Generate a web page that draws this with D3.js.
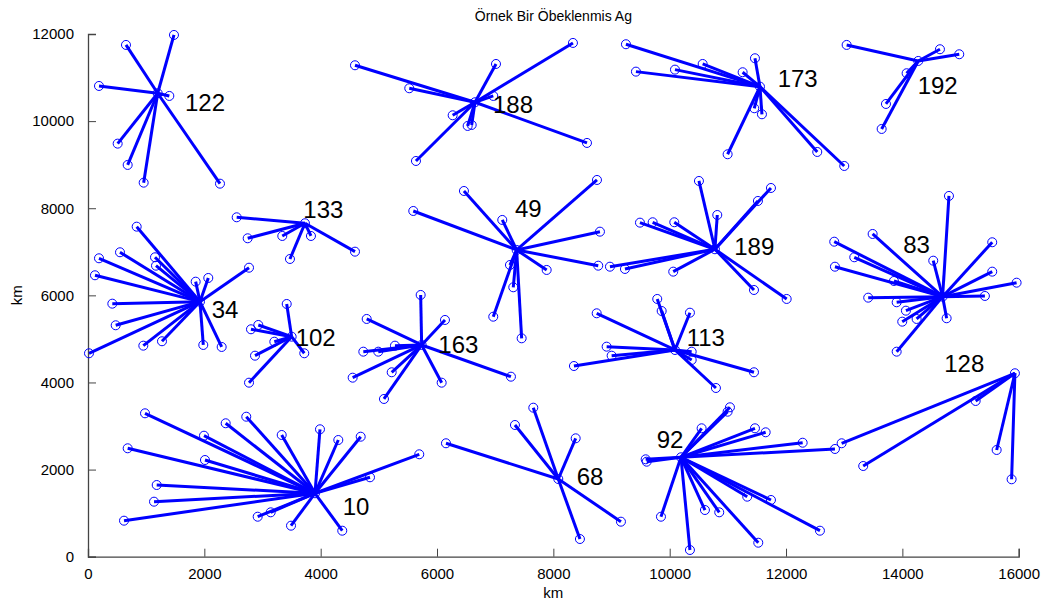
<!DOCTYPE html>
<html>
<head>
<meta charset="utf-8">
<script src="https://cdn.jsdelivr.net/npm/d3@7"></script>
<style>
  body { margin: 0; background: #fff; }
  svg { display: block; font-family: "Liberation Sans", Arial, sans-serif; }
</style>
</head>
<body>
<svg id="chart" width="1056" height="604"></svg>
<script>
// cluster ids, hub positions (km) and label anchors (km)
const clusterIds = [122, 188, 173, 192, 34, 133, 102, 49, 163, 189, 113, 83, 128, 92, 68, 10];
const centerX = [1198, 6653, 11552, 14273, 1925, 3730, 3501, 7369, 5736, 10778, 10091, 14692, 15935, 10194, 8085, 3902];
const centerY = [10640, 10433, 10791, 11381, 5855, 7655, 5051, 7042, 4861, 7058, 4746, 5970, 4211, 2282, 1784, 1456];
const labelX = [1667, 6962, 11856, 14263, 2126, 3701, 3570, 7340, 6022, 11110, 10292, 14015, 14720, 9776, 8401, 4378];
const labelY = [10428, 10394, 10984, 10812, 5687, 7983, 5037, 7995, 4884, 7115, 5033, 7168, 4447, 2691, 1853, 1164];

// member nodes of each cluster [x, y] in km
const m122 = [[653,11749],[1478,11978],[189,10807],[1398,10578],[510,9483],[682,8994],[957,8587],[2269,8564]];
const m188 = [[4590,11282],[5523,10754],[7014,11312],[6967,10578],[6269,10134],[6527,9889],[6596,9912],[5638,9085],[8337,11795],[8578,9499]];
const m173 = [[9248,11765],[9420,11136],[10091,11182],[10567,11312],[11254,11122],[11466,11443],[11454,10295],[11586,10157],[10996,9239],[12537,9292],[13001,8970]];
const m192 = [[13042,11749],[14646,11650],[14978,11535],[14073,11099],[13718,10394],[13644,9820]];
const m34 = [[837,7577],[550,6989],[189,6851],[120,6461],[1152,6874],[1169,6681],[1851,6314],[2068,6399],[2768,6635],[418,5809],[476,5313],[17,4670],[951,4845],[1272,4946],[1982,4861],[2298,4815]];
const m133 = [[2556,7792],[2745,7310],[3340,7363],[3833,7363],[3472,6835],[4590,7003]];
const m102 = [[3416,5802],[2802,5221],[2928,5320],[3203,4936],[3718,4670],[2871,4615],[2768,3995]];
const m49 = [[5592,7937],[7122,7731],[6463,8396],[8750,8649],[8801,7462],[8772,6681],[7885,6583],[7254,6697],[7311,6185],[6967,5510],[7455,5014]];
const m163 = [[5719,6009],[4791,5458],[6137,5435],[4733,4707],[4990,4707],[5277,4845],[4550,4110],[5221,4234],[7271,4133],[6080,3995],[5088,3621]];
const m189 = [[9489,7669],[9707,7678],[10079,7678],[10818,7845],[10503,8626],[11517,8167],[11741,8465],[8973,6658],[9231,6606],[10061,6544],[11449,6123],[12011,5917]];
const m113 = [[8745,5588],[9786,5917],[9862,5641],[10348,5602],[8916,4822],[9002,4615],[8354,4378],[10378,4707],[10378,4516],[11449,4234],[10795,3873]];
const m83 = [[14801,8282],[12829,7232],[13489,7409],[13173,6874],[12841,6658],[13855,6330],[14531,6796],[15545,7219],[15545,6544],[15964,6291],[15419,5986],[13413,5947],[13902,5841],[14061,5648],[13998,5396],[14245,5458],[14761,5474],[13902,4707]];
const m128 = [[15260,3575],[15621,2450],[15878,1777],[13327,2082],[12956,2604]];
const m92 = [[11036,3430],[10996,3329],[10549,2948],[11466,2948],[11650,2856],[12286,2617],[12841,2473],[9587,2236],[9604,2181],[9850,918],[10348,154],[10606,1072],[10852,1019],[11333,1378],[11741,1302],[11523,321],[12583,597]];
const m68 = [[8384,2718],[9162,804],[8457,406],[6154,2604],[7340,3024],[7655,3421]];
const m10 = [[980,3292],[682,2489],[1994,2778],[2011,2220],[2367,3063],[2721,3214],[3330,2794],[3988,2925],[1181,1646],[1135,1263],[619,827],[2917,918],[3141,1019],[3490,712],[4303,2679],[4688,2755],[4848,1823],[5695,2351],[4371,597]];
const memberLists = [m122, m188, m173, m192, m34, m133, m102, m49, m163, m189, m113, m83, m128, m92, m68, m10];

const xTicks = [0, 2000, 4000, 6000, 8000, 10000, 12000, 14000, 16000];
const yTicks = [0, 2000, 4000, 6000, 8000, 10000, 12000];

const svg = d3.select("#chart");
const plotLeft = 88, plotRight = 1018.7, plotTop = 34, plotBottom = 556.7;

const x = d3.scaleLinear().domain([0, 16000]).range([plotLeft, plotRight]);
const y = d3.scaleLinear().domain([0, 12000]).range([plotBottom, plotTop]);

// axes, ticks pointing inwards like matlab
const xAxis = d3.axisBottom(x).tickValues(xTicks).tickSize(-8).tickPadding(12).tickFormat(d3.format("d"));
const yAxis = d3.axisLeft(y).tickValues(yTicks).tickSize(-8).tickPadding(14).tickFormat(d3.format("d"));

const gx = svg.append("g").attr("transform", "translate(0," + plotBottom + ")").call(xAxis);
const gy = svg.append("g").attr("transform", "translate(" + plotLeft + ",0)").call(yAxis);
[gx, gy].forEach(function(g){
    g.select(".domain").attr("stroke", "#444").attr("stroke-width", 1.3);
    g.selectAll(".tick line").attr("stroke", "#444");
    g.selectAll(".tick text").attr("fill", "#000").style("font-size", "15px").style("font-family", "Liberation Sans, Arial, sans-serif");
});

// build segment table from hubs and members
let segments = [];
let nodes = [];
clusterIds.forEach(function(id, i){
    nodes.push([centerX[i], centerY[i]]);
    memberLists[i].forEach(function(p){
        segments.push({x1: centerX[i], y1: centerY[i], x2: p[0], y2: p[1]});
        nodes.push(p);
    });
});

svg.append("g").selectAll("line")
    .data(segments)
    .enter()
    .append("line")
    .attr("x1", d => x(d.x1))
    .attr("y1", d => y(d.y1))
    .attr("x2", d => x(d.x2))
    .attr("y2", d => y(d.y2))
    .attr("stroke", "#0000ff")
    .attr("stroke-width", 3);

svg.append("g").selectAll("circle")
    .data(nodes)
    .enter()
    .append("circle")
    .attr("cx", d => x(d[0]))
    .attr("cy", d => y(d[1]))
    .attr("r", 4.5)
    .attr("fill", "none")
    .attr("stroke", "#0000ff")
    .attr("stroke-width", 1);

svg.append("g").selectAll("text")
    .data(clusterIds)
    .enter()
    .append("text")
    .attr("x", (d, i) => x(labelX[i]))
    .attr("y", (d, i) => y(labelY[i]))
    .attr("dy", "0.36em")
    .style("font-size", "24px")
    .attr("fill", "#000")
    .text(d => d);

svg.append("text")
    .attr("x", (plotLeft + plotRight) / 2)
    .attr("y", 21)
    .attr("text-anchor", "middle")
    .style("font-size", "14px")
    .text("Örnek Bir Öbeklenmis Ag");

svg.append("text")
    .attr("x", (plotLeft + plotRight) / 2)
    .attr("y", 598)
    .attr("text-anchor", "middle")
    .style("font-size", "15px")
    .text("km");

svg.append("text")
    .attr("transform", "translate(22," + ((plotTop + plotBottom) / 2) + ") rotate(-90)")
    .attr("text-anchor", "middle")
    .style("font-size", "15px")
    .text("km");
</script>
</body>
</html>
